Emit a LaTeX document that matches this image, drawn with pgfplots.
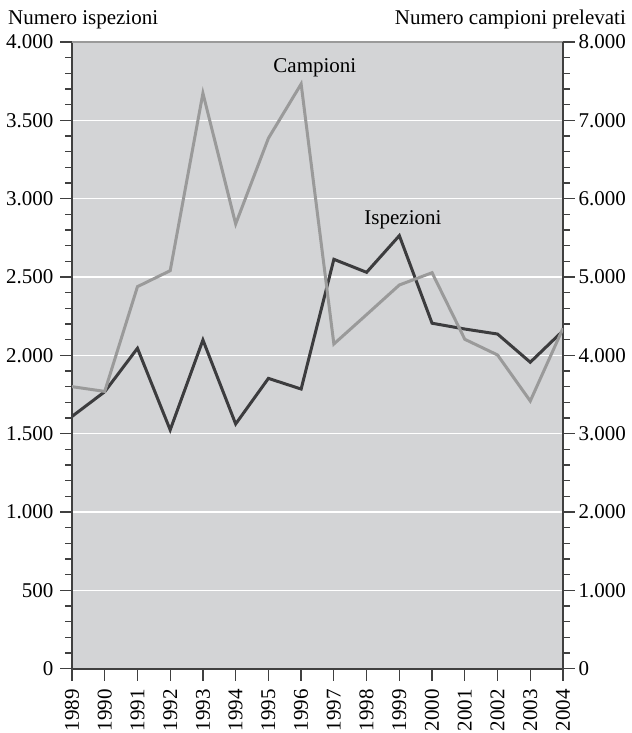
\documentclass[border=0pt]{standalone}
\usepackage{fontspec}
\setmainfont{Liberation Serif}
\usepackage{pgfplots}
\pgfplotsset{compat=1.18}

\definecolor{fondo}{HTML}{D3D4D6}
\definecolor{scuro}{HTML}{3C3C3E}
\definecolor{chiaro}{HTML}{9A9A9A}
\definecolor{assi}{HTML}{404040}
\newcommand{\ff}{\fontsize{21bp}{25bp}\selectfont}

\pgfplotstableread{
anno ispezioni
1989 1610
1990 1768
1991 2045
1992 1524
1993 2098
1994 1562
1995 1853
1996 1785
1997 2613
1998 2530
1999 2764
2000 2205
2001 2168
2002 2136
2003 1956
2004 2157
}\ispezioni

\pgfplotstableread{
anno campioni
1989 3600
1990 3540
1991 4877
1992 5081
1993 7346
1994 5677
1995 6771
1996 7464
1997 4145
1998 4520
1999 4898
2000 5055
2001 4205
2002 4005
2003 3417
2004 4345
}\campioni

\pgfplotsset{
  comune/.style={
    at={(0,0)}, anchor=south west,
    scale only axis, width=491bp, height=626.7bp,
    xmin=1989, xmax=2004,
    tick align=outside,
    major tick length=12bp, minor tick length=7bp,
    every tick/.style={assi, line width=1.3bp},
    axis line style={assi, line width=1.8bp},
    tick label style={font=\ff},
    /pgf/number format/assume math mode=true,
    /pgf/number format/1000 sep={.},
  },
}

\begin{document}
\begin{tikzpicture}
\path[use as bounding box] (-72bp,-64.3bp) rectangle (560bp,668.7bp);

\begin{axis}[
  comune, clip=false,
  axis x line*=bottom, axis y line*=left,
  axis background/.style={fill=fondo},
  ymin=0, ymax=4000,
  ytick={0,500,...,4000},
  minor y tick num=4,
  yticklabel shift=3bp,
  ymajorgrids, grid style={white, line width=1.2bp},
  xtick={1989,...,2004},
  xticklabel shift=5bp,
  xticklabel style={rotate=90, anchor=east},
  xticklabel={\pgfmathprintnumber[1000 sep={}]{\tick}},
]
\draw[chiaro, line width=1.5bp] (rel axis cs:0,1) -- (rel axis cs:1,1);
\addplot[scuro, line width=3bp, mark=none] table[x=anno, y=ispezioni] {\ispezioni};
\node[font=\ff] at (axis cs:1999.11,2864) {Ispezioni};
\node[font=\ff] at (axis cs:1996.42,3834) {Campioni};
\node[font=\ff, anchor=base west, inner sep=0pt] at ([xshift=-64bp, yshift=17bp]rel axis cs:0,1) {Numero ispezioni};
\node[font=\ff, anchor=base east, inner sep=0pt] at ([xshift=63bp, yshift=17bp]rel axis cs:1,1) {Numero campioni prelevati};
\end{axis}

\begin{axis}[
  comune,
  axis x line=none, axis y line*=right,
  ymin=0, ymax=8000,
  ytick={0,1000,...,8000},
  minor y tick num=4,
]
\addplot[chiaro, line width=3bp, mark=none] table[x=anno, y=campioni] {\campioni};
\end{axis}
\end{tikzpicture}
\end{document}
